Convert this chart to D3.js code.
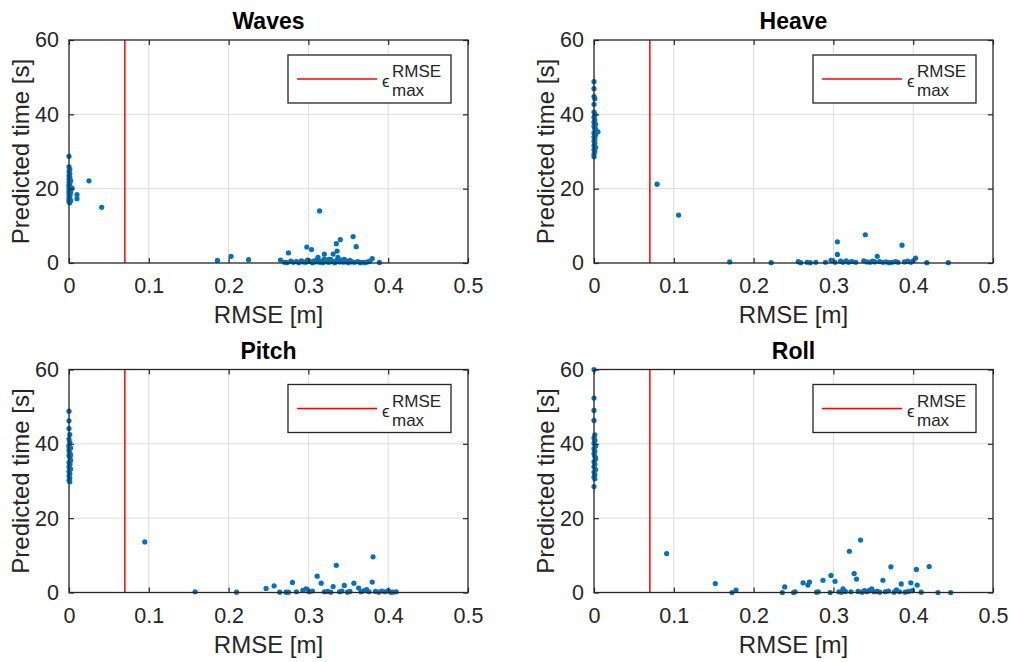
<!DOCTYPE html>
<html lang="en">
<head>
<meta charset="UTF-8">
<title>RMSE vs predicted time</title>
<script src="https://d3js.org/d3.v7.min.js"></script>
<style>
  body { margin: 0; background: #fff; }
  text { font-family: "Liberation Sans", Arial, sans-serif; fill: #262626; }
</style>
</head>
<body>
<script>
// data: [RMSE (m), predicted time (s)]
var titles = ["Waves", "Heave", "Pitch", "Roll"];
var xTicks = [0, 0.1, 0.2, 0.3, 0.4, 0.5];
var yTicks = [0, 20, 40, 60];
var epsMax = 0.07;

var wavesPts = [
  [0,28.7],[0,25.9],[0.001,25.2],[0,24.6],[0.001,24.0],[0,23.5],[0.001,23.1],[0,22.6],[0.002,22.2],[0,21.8],
  [0.001,21.4],[0,21.0],[0.001,20.7],[0.002,20.3],[0.004,20.1],[0,19.9],[0.001,19.5],[0,19.2],[0.002,18.9],[0,18.6],
  [0.001,18.2],[0,17.8],[0.001,17.5],[0,17.1],[0.002,16.8],[0,16.5],[0.001,16.2],[0.001,21.9],[0,20.5],[0.001,18.0],
  [0.010,18.4],[0.010,17.3],[0.025,22.1],[0.041,15.0],
  [0.186,0.7],[0.203,1.8],[0.225,0.9],
  [0.265,0.8],[0.275,2.7],[0.298,4.3],[0.304,3.6],[0.314,14.0],[0.320,2.4],[0.335,5.2],[0.340,6.3],[0.356,7.1],
  [0.360,4.4],[0.336,3.2],[0.331,2.4],[0.337,1.5],[0.312,1.5],[0.320,1.1],[0.380,1.2],[0.389,0.15],
  [0.270,0.2],[0.273,0.1],[0.278,0.5],[0.281,0.2],[0.285,0.4],[0.288,0.1],[0.291,0.6],[0.294,0.3],[0.297,0.2],
  [0.299,0.8],[0.302,0.4],[0.305,0.1],[0.307,0.6],[0.309,0.3],[0.311,0.9],[0.314,0.2],[0.316,0.5],[0.318,0.1],
  [0.322,0.7],[0.324,0.3],[0.326,0.2],[0.328,0.9],[0.330,0.4],[0.333,0.1],[0.335,0.6],[0.339,0.3],[0.342,0.8],
  [0.344,0.2],[0.347,0.5],[0.350,0.1],[0.352,0.7],[0.355,0.3],[0.358,0.2],[0.362,0.4],[0.365,0.1],[0.368,0.2],
  [0.371,0.1],[0.374,0.3],[0.377,0.5],[0.345,1.0],[0.326,1.0]
];

var heavePts = [
  [0,48.8],[0,46.9],[0,44.8],[0.001,44.2],[0,42.7],[0,40.6],[0.001,39.8],[0,39.2],[0.001,38.5],[0,37.9],
  [0.002,37.3],[0,36.8],[0.001,36.2],[0.005,35.3],[0,35.0],[0.002,34.5],[0,33.9],[0.001,33.3],[0,32.8],[0.001,32.2],
  [0,31.6],[0.002,31.1],[0,30.5],[0.001,29.9],[0,29.3],[0,28.6],[0.001,40.1],[0.002,36.0],[0.001,34.0],
  [0.079,21.2],[0.106,12.9],
  [0.170,0.3],[0.222,0.1],[0.256,0.35],[0.259,0.1],[0.267,0.2],[0.271,0.1],[0.278,0.2],[0.290,0.2],[0.297,0.7],
  [0.305,5.7],[0.305,2.3],[0.302,0.2],[0.309,0.5],[0.312,0.2],[0.316,0.6],[0.319,0.2],[0.323,0.4],[0.328,0.2],
  [0.338,0.6],[0.340,7.6],[0.342,0.3],[0.346,0.2],[0.349,0.5],[0.355,1.8],[0.352,0.3],[0.358,0.4],[0.362,0.2],
  [0.366,0.3],[0.370,0.1],[0.374,0.2],[0.378,0.4],[0.381,0.2],[0.386,4.8],[0.389,0.3],[0.393,0.5],[0.397,0.2],
  [0.400,0.6],[0.403,1.3],[0.417,0.1],[0.444,0.1]
];

var pitchPts = [
  [0,48.8],[0,46.2],[0,44.1],[0.001,42.5],[0,41.3],[0.001,40.4],[0,39.6],[0.002,38.9],[0,38.2],[0.001,37.5],
  [0,36.9],[0.001,36.3],[0.002,35.6],[0,35.0],[0.001,34.4],[0,33.8],[0.002,33.2],[0,32.6],[0.001,32.0],[0,31.4],
  [0.001,30.8],[0,30.2],[0.001,29.8],[0.002,37.0],[0.001,34.8],[0,39.0],
  [0.095,13.6],[0.158,0.2],[0.210,0.1],
  [0.247,1.1],[0.257,1.8],[0.264,0.1],[0.272,0.1],[0.275,0.1],[0.280,2.7],[0.285,0.2],[0.293,0.6],[0.297,1.0],
  [0.301,0.2],[0.305,0.4],[0.311,4.4],[0.316,2.5],[0.320,0.2],[0.324,0.3],[0.328,0.1],[0.331,1.6],[0.335,7.3],
  [0.339,0.2],[0.342,0.4],[0.345,1.9],[0.349,0.1],[0.352,0.3],[0.357,2.5],[0.363,1.2],[0.366,0.2],[0.370,0.5],
  [0.373,0.8],[0.376,0.2],[0.380,2.8],[0.381,9.6],[0.384,0.3],[0.388,0.1],[0.392,0.4],[0.396,0.2],[0.400,0.5],
  [0.403,0.1],[0.406,0.1],[0.410,0.2]
];

var rollPts = [
  [0,60],[0,52.3],[0,49.0],[0,46.3],[0.001,42.4],[0,41.6],[0.001,40.8],[0,40.1],[0.002,39.4],[0,38.7],
  [0.001,38.0],[0,37.3],[0.001,36.6],[0.002,35.9],[0,35.2],[0.001,34.5],[0,33.8],[0.002,33.1],[0,32.4],[0.001,31.7],
  [0,31.1],[0.001,30.6],[0,28.5],[0.001,41.0],[0.002,36.2],
  [0.091,10.5],[0.152,2.4],[0.173,0.0],[0.178,0.65],
  [0.236,0.0],[0.239,1.5],[0.250,0.0],[0.252,0.2],[0.262,2.6],[0.268,2.0],[0.270,2.8],[0.279,0.1],[0.281,0.2],
  [0.287,3.3],[0.296,0.0],[0.297,4.6],[0.302,3.0],[0.307,0.2],[0.310,0.1],[0.312,1.0],[0.315,0.3],[0.320,11.1],
  [0.322,0.2],[0.326,5.1],[0.329,3.6],[0.331,0.3],[0.334,14.1],[0.336,0.1],[0.339,0.5],[0.342,0.2],[0.345,0.6],
  [0.348,1.0],[0.351,0.2],[0.355,0.3],[0.358,0.1],[0.362,3.3],[0.365,0.2],[0.369,0.4],[0.372,6.9],[0.376,0.1],
  [0.379,0.7],[0.383,0.2],[0.385,2.3],[0.390,0.1],[0.394,0.3],[0.397,2.6],[0.399,0.5],[0.404,6.2],[0.405,2.0],
  [0.410,0.1],[0.420,7.0],[0.431,0.0],[0.447,0.0]
];

var allPts = [wavesPts, heavePts, pitchPts, rollPts];

var width = 1012, height = 662;
var plotW = 399, plotH = 223;
var origins = [[69, 40], [594, 40], [69, 369.5], [594, 369.5]];

var svg = d3.select("body").append("svg")
    .attr("width", width)
    .attr("height", height);

var x = d3.scaleLinear().domain([0, 0.5]).range([0, plotW]);
var y = d3.scaleLinear().domain([0, 60]).range([plotH, 0]);

titles.forEach(function (title, i) {
    var g = svg.append("g")
        .attr("transform", "translate(" + origins[i][0] + "," + origins[i][1] + ")");

    // grid
    g.selectAll(".gx").data(xTicks.slice(1, -1)).enter().append("line")
        .attr("x1", d => x(d)).attr("x2", d => x(d))
        .attr("y1", 0).attr("y2", plotH)
        .attr("stroke", "#dcdcdc").attr("stroke-width", 1);
    g.selectAll(".gy").data(yTicks.slice(1, -1)).enter().append("line")
        .attr("x1", 0).attr("x2", plotW)
        .attr("y1", d => y(d)).attr("y2", d => y(d))
        .attr("stroke", "#dcdcdc").attr("stroke-width", 1);

    // threshold line
    g.append("line")
        .attr("x1", x(epsMax)).attr("x2", x(epsMax))
        .attr("y1", 0).attr("y2", plotH)
        .attr("stroke", "#ff0000").attr("stroke-width", 1.5);

    // points
    g.selectAll("circle").data(allPts[i]).enter().append("circle")
        .attr("cx", d => x(d[0]))
        .attr("cy", d => y(d[1]))
        .attr("r", 2.6)
        .attr("fill", "#0072bd");

    // axes with inward ticks on all four sides
    var fmt = d3.format("~g");
    var axB = g.append("g").attr("transform", "translate(0," + plotH + ")")
        .call(d3.axisBottom(x).tickValues(xTicks).tickSize(-5).tickPadding(12).tickFormat(fmt));
    var axT = g.append("g")
        .call(d3.axisTop(x).tickValues(xTicks).tickSize(-5).tickFormat(""));
    var axL = g.append("g")
        .call(d3.axisLeft(y).tickValues(yTicks).tickSize(-5).tickPadding(10));
    var axR = g.append("g").attr("transform", "translate(" + plotW + ",0)")
        .call(d3.axisRight(y).tickValues(yTicks).tickSize(-5).tickFormat(""));
    [axB, axT, axL, axR].forEach(function (a) {
        a.select(".domain").remove();
        a.selectAll("line").attr("stroke", "#262626").attr("stroke-width", 1.2);
        a.selectAll("text").attr("font-size", 21.5).attr("font-family", null).style("fill", "#262626");
    });
    axB.selectAll("text").attr("dy", "0.71em").attr("y", 15);

    g.append("rect")
        .attr("width", plotW).attr("height", plotH)
        .attr("fill", "none").attr("stroke", "#262626").attr("stroke-width", 1.3);

    // title and labels
    g.append("text")
        .attr("x", plotW / 2).attr("y", -11)
        .attr("text-anchor", "middle")
        .attr("font-size", 23).attr("font-weight", "bold")
        .style("fill", "#000")
        .text(title);
    g.append("text")
        .attr("x", plotW / 2).attr("y", plotH + 60)
        .attr("text-anchor", "middle")
        .attr("font-size", 24)
        .text("RMSE [m]");
    g.append("text")
        .attr("transform", "translate(-40," + plotH / 2 + ") rotate(-90)")
        .attr("text-anchor", "middle")
        .attr("font-size", 24)
        .text("Predicted time [s]");

    // legend
    var lg = g.append("g").attr("transform", "translate(" + (plotW - 180) + ",15)");
    lg.append("rect")
        .attr("width", 163).attr("height", 48)
        .attr("fill", "#fff").attr("stroke", "#262626").attr("stroke-width", 1.3);
    lg.append("line")
        .attr("x1", 9).attr("x2", 89).attr("y1", 24).attr("y2", 24)
        .attr("stroke", "#ff0000").attr("stroke-width", 1.5);
    lg.append("text").attr("x", 94).attr("y", 32).attr("font-size", 17).text("\u03f5");
    lg.append("text").attr("x", 104).attr("y", 22).attr("font-size", 17).text("RMSE");
    lg.append("text").attr("x", 104).attr("y", 41).attr("font-size", 17).text("max");
});
</script>
</body>
</html>
